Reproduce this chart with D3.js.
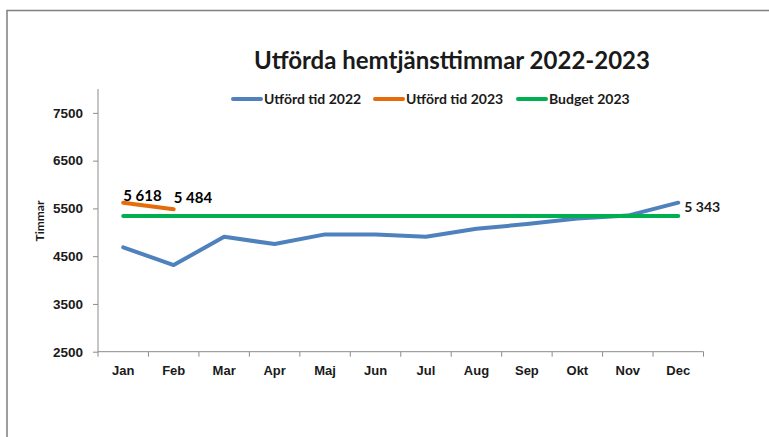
<!DOCTYPE html>
<html>
<head>
<meta charset="utf-8">
<script src="https://cdn.jsdelivr.net/npm/d3@7"></script>
<style>
  body { margin: 0; background: #fff; }
  svg { font-family: Lato, "Open Sans", sans-serif; }
  .axis text { font-weight: bold; font-size: 13.5px; fill: #1a1a1a; }
  .axis path, .axis line { stroke: #8c8c8c; }
</style>
</head>
<body>
<svg id="chart" width="769" height="437"></svg>
<script>
// Data
const months = ["Jan", "Feb", "Mar", "Apr", "Maj", "Jun", "Jul", "Aug", "Sep", "Okt", "Nov", "Dec"];
const utford2022 = [4684, 4314, 4906, 4753, 4956, 4956, 4906, 5073, 5172, 5290, 5350, 5620];
const utford2023 = [5618, 5484];
const budget2023 = [5343, 5343, 5343, 5343, 5343, 5343, 5343, 5343, 5343, 5343, 5343, 5343];
const yTicks = [2500, 3500, 4500, 5500, 6500, 7500];

const series = [
    { name: "Utförd tid 2022", values: utford2022, color: "#4f81bd" },
    { name: "Utförd tid 2023", values: utford2023, color: "#e46c0a" },
    { name: "Budget 2023", values: budget2023, color: "#00b050" }
];

const svg = d3.select("#chart");

// outer frame (runs off the right and bottom edges)
svg.append("rect")
    .attr("x", 7).attr("y", 10.5)
    .attr("width", 820).attr("height", 460)
    .attr("fill", "none")
    .attr("stroke", "#7f7f7f")
    .attr("stroke-width", 1.5);

const plotL = 98, plotR = 703.5, plotT = 89, plotB = 351.7;

const x = d3.scaleBand().domain(months).range([plotL, plotR]);
const y = d3.scaleLinear().domain([2500, 8000]).range([plotB, plotT]);

// y axis
const yAxis = svg.append("g")
    .attr("class", "axis")
    .attr("transform", `translate(${plotL},0)`)
    .call(d3.axisLeft(y).tickValues(yTicks).tickSize(5).tickPadding(10).tickFormat(d3.format("d")));
yAxis.select(".domain").attr("d", `M0,${plotT}V${plotB}`);

// x axis
const xAxis = svg.append("g")
    .attr("class", "axis")
    .attr("transform", `translate(0,${plotB})`)
    .call(d3.axisBottom(x).tickSize(0).tickPadding(14));
xAxis.select(".domain").attr("d", `M${plotL},0H${plotR}`);
xAxis.selectAll("text").style("font-size", "13px");
// tick marks between categories
xAxis.selectAll(".sep")
    .data(months.concat(["end"]))
    .enter().append("line")
    .attr("class", "sep")
    .attr("x1", (d, i) => plotL + i * x.bandwidth())
    .attr("x2", (d, i) => plotL + i * x.bandwidth())
    .attr("y1", 0).attr("y2", 5);

// axis title
svg.append("text")
    .attr("transform", "translate(44,221) rotate(-90)")
    .attr("text-anchor", "middle")
    .attr("font-weight", "bold")
    .attr("font-size", 12)
    .attr("fill", "#1a1a1a")
    .text("Timmar");

// title
svg.append("text")
    .attr("x", 452).attr("y", 69)
    .attr("text-anchor", "middle")
    .attr("font-weight", "bold")
    .attr("font-size", 24)
    .attr("fill", "#1a1a1a")
    .text("Utförda hemtjänsttimmar 2022-2023");

// lines
const line = d3.line()
    .x((d, i) => x(months[i]) + x.bandwidth() / 2)
    .y(d => y(d));

svg.selectAll(".series")
    .data(series)
    .enter().append("path")
    .attr("class", "series")
    .attr("d", d => line(d.values))
    .attr("fill", "none")
    .attr("stroke", d => d.color)
    .attr("stroke-width", 4)
    .attr("stroke-linecap", "round")
    .attr("stroke-linejoin", "round");

// data labels
const cx = i => x(months[i]) + x.bandwidth() / 2;
const fmt = v => d3.format(",")(v).replace(",", " ");

svg.selectAll(".lab23")
    .data(utford2023)
    .enter().append("text")
    .attr("class", "lab23")
    .attr("x", (d, i) => cx(i))
    .attr("y", (d, i) => y(d) - (i === 0 ? 2 : 6))
    .attr("font-weight", "bold")
    .attr("font-size", 15)
    .attr("fill", "#000")
    .text(d => fmt(d));

svg.append("text")
    .attr("x", cx(11) + 6)
    .attr("y", y(budget2023[11]) - 3.5)
    .attr("font-weight", "bold")
    .attr("font-size", 14)
    .attr("fill", "#1a1a1a")
    .text(fmt(budget2023[11]));

// legend
const legendX = [233, 375, 518];
const leg = svg.selectAll(".leg")
    .data(series)
    .enter().append("g")
    .attr("class", "leg")
    .attr("transform", (d, i) => `translate(${legendX[i]},99)`);
leg.append("line")
    .attr("x1", 0).attr("x2", 28)
    .attr("stroke", d => d.color)
    .attr("stroke-width", 4)
    .attr("stroke-linecap", "round");
leg.append("text")
    .attr("x", 31).attr("y", 5)
    .attr("font-weight", "bold")
    .attr("font-size", 14)
    .attr("fill", "#1a1a1a")
    .text(d => d.name);
</script>
</body>
</html>
